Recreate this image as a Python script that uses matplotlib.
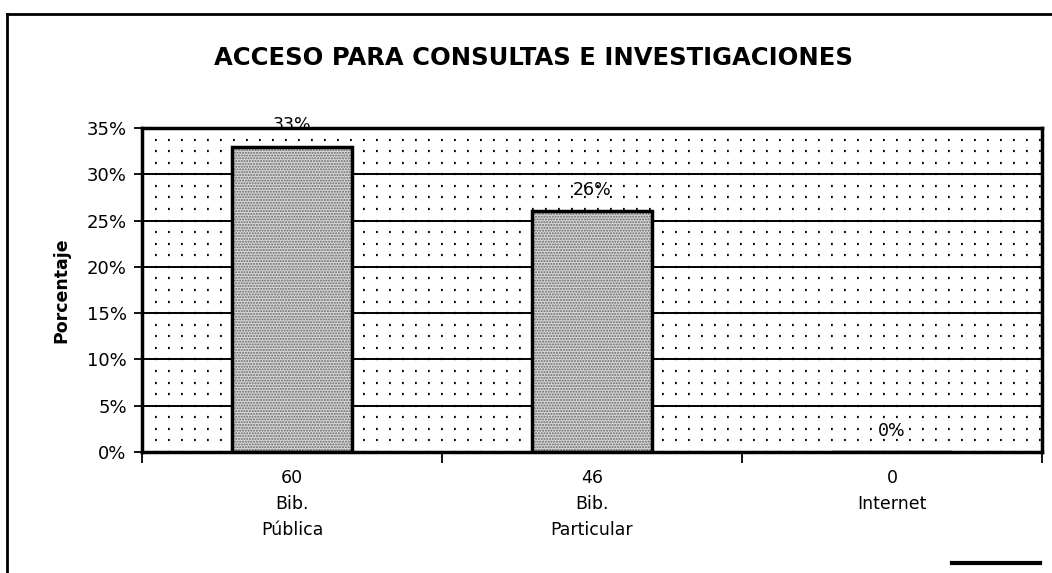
import matplotlib
matplotlib.use("Agg")
import matplotlib.pyplot as plt
from matplotlib.lines import Line2D
import numpy as np

categories = ["Bib.\nPública", "Bib.\nParticular", "Internet"]
counts = [60, 46, 0]
percent = [33, 26, 0]
yticks = [0, 5, 10, 15, 20, 25, 30, 35]
title = "ACCESO PARA CONSULTAS E INVESTIGACIONES"
ylabel = "Porcentaje"

plt.rcParams['font.family'] = ['DejaVu Sans']

W, H = 1052, 573
fig = plt.figure(figsize=(W / 100, H / 100), dpi=100)
ax = fig.add_axes([142 / W, 1 - 452 / H, 900 / W, (452 - 128) / H])

x = np.arange(len(categories))
ax.set_xlim(-0.5, len(categories) - 0.5)
ax.set_ylim(0, 35)

# dotted background pattern: minor horizontal dotted lines
minor = np.arange(0, 35.01, 1.25)
for m in minor:
    ax.axhline(m, color='black', lw=1.6, linestyle=(0, (0.8, 5.05)), zorder=1)
# major solid gridlines
for t in yticks:
    ax.axhline(t, color='black', lw=1.4, zorder=1.5)

bars = ax.bar(x, percent, width=0.4, facecolor='#d8d8d8', edgecolor='black',
              linewidth=2.5, hatch='......', zorder=3)
for b in bars:
    b._hatch_color = (0.4, 0.4, 0.4, 1)

for xi, p in zip(x, percent):
    ax.annotate(f"{p}%", (xi, p), xytext=(0, 9), textcoords='offset points',
                ha='center', va='bottom', fontsize=12.5, zorder=6)

ax.set_yticks(yticks)
ax.set_yticklabels([f"{t}%" for t in yticks], fontsize=13)
ax.set_xticks(np.arange(-0.5, len(categories), 1.0))
ax.set_xticklabels([])
ax.tick_params(axis='y', direction='out', length=6, width=1.3, pad=5)
ax.tick_params(axis='x', direction='out', length=8, width=1.3)

for xi, c, n in zip(x, categories, counts):
    ax.annotate(f"{n}\n{c}", (xi, 0), xytext=(0, -12), textcoords='offset points',
                ha='center', va='top', fontsize=12.5, linespacing=1.6,
                annotation_clip=False)

for s in ax.spines.values():
    s.set_linewidth(2.5)
    s.set_color('black')
    s.set_zorder(5)

ax.set_ylabel(ylabel, fontsize=12.5, fontweight='bold', labelpad=12)

fig.text(533 / W, 1 - 58 / H, title, ha='center', va='center',
         fontsize=17.5, fontweight='bold')

# outer frame (left and top) and short segment at bottom right
fig.add_artist(Line2D([7 / W, 7 / W], [0, 1 - 14 / H], transform=fig.transFigure,
                      color='black', lw=2))
fig.add_artist(Line2D([7 / W, 1], [1 - 14 / H, 1 - 14 / H], transform=fig.transFigure,
                      color='black', lw=2))
fig.add_artist(Line2D([952 / W, 1040 / W], [1 - 563 / H, 1 - 563 / H],
                      transform=fig.transFigure, color='black', lw=3))

fig.savefig("out.png", dpi=100)
